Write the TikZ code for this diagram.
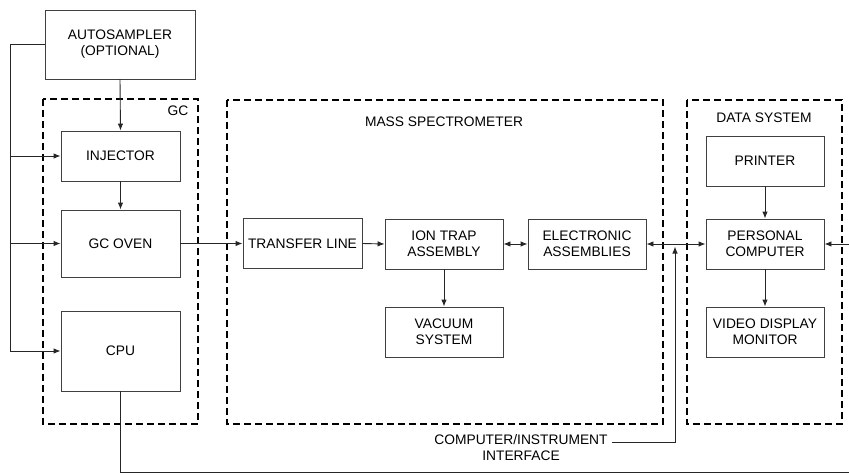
\documentclass[tikz,border=0pt]{standalone}
\usepackage{fontspec}
\setmainfont{Liberation Sans}
\usetikzlibrary{arrows.meta}
\begin{document}
\begin{tikzpicture}[x=1pt,y=-1pt,
    blk/.style={draw=black!75,line width=0.9pt,minimum width=118pt,minimum height=50pt,
      align=center,inner sep=0pt,font=\fontsize{13.8}{16}\selectfont},
    grp/.style={draw=black,line width=1.8pt,dash pattern=on 7pt off 4pt,inner sep=0pt},
    lbl/.style={align=center,inner sep=0pt,font=\fontsize{13.8}{16}\selectfont},
    >={Latex[length=7pt,width=5.5pt]}]
  \useasboundingbox (0,0) rectangle (849,476);
  % dashed groups
  \draw[grp]
    (43,99) rectangle (198,424)
    (227,100) rectangle (663,424)
    (687,100) rectangle (842,424);
  \draw
    (178,111) node[lbl] (gclbl){GC}
    (444,122) node[lbl] (mslbl){MASS SPECTROMETER}
    (764,118) node[lbl] (dslbl){DATA SYSTEM};
  % blocks
  \draw
    (120,44.5) node[blk,minimum width=150pt,minimum height=69pt] (auto){AUTOSAMPLER\\(OPTIONAL)}
    (120.5,156) node[blk,minimum width=119pt] (inj){INJECTOR}
    (120.5,243.5) node[blk,minimum width=119pt,minimum height=67pt] (oven){GC OVEN}
    (120.5,351) node[blk,minimum width=119pt,minimum height=80pt] (cpu){CPU}
    (302.5,243.5) node[blk,minimum width=119pt] (tl){TRANSFER LINE}
    (444,244) node[blk] (ion){ION TRAP\\ASSEMBLY}
    (444,332) node[blk] (vac){VACUUM\\SYSTEM}
    (587,244) node[blk] (elec){ELECTRONIC\\ASSEMBLIES}
    (765,161) node[blk] (prn){PRINTER}
    (765,244) node[blk] (pc){PERSONAL\\COMPUTER}
    (765,332) node[blk] (vdm){VIDEO DISPLAY\\MONITOR}
    (521,448) node[lbl] (ifc){COMPUTER/INSTRUMENT\\INTERFACE};
  \coordinate (lt) at (10,44.5);
  \coordinate (lb) at (10,351);
  \coordinate (tap) at (675,246.5);
  \coordinate (rin) at (849,244);
  \coordinate (cpuend) at (849,472);
  \begin{scope}[line width=0.9pt,black!85]
    \draw (auto.west) -- (lt) -- (lb);
    \draw[->] (lb) -- (cpu.west);
    \draw[->] (lt |- inj.west) -- (inj.west);
    \draw[->] (lt |- oven.west) -- (oven.west);
    \draw[->] (auto.south) -- (inj.north);
    \draw[->] (inj.south) -- (oven.north);
    \draw[->] (oven.east) -- (tl.west);
    \draw[->] (tl.east) -- (ion.west);
    \draw[<->] (ion.east) -- (elec.west);
    \draw[->] (ion.south) -- (vac.north);
    \draw[<->] (elec.east) -- (pc.west);
    \draw[->] (prn.south) -- (pc.north);
    \draw[->] (pc.south) -- (vdm.north);
    \draw[->] (rin) -- (pc.east);
    \draw[->] ([xshift=4pt,yshift=-8pt]ifc.north east) -| (tap);
    \draw (cpu.south) |- (cpuend);
  \end{scope}
\end{tikzpicture}
\end{document}
